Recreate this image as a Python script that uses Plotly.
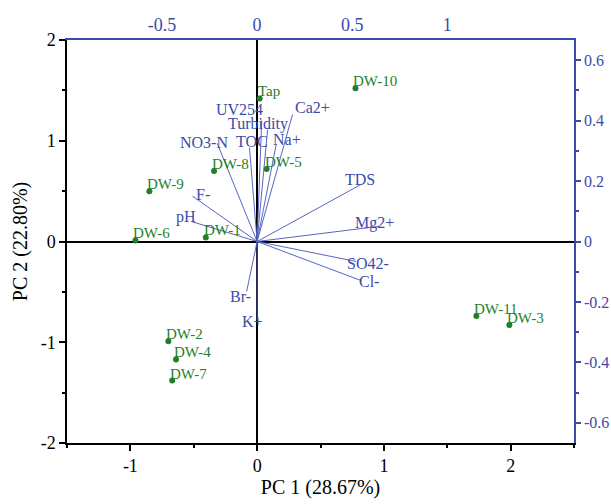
import plotly.graph_objects as go

# ---- Data: scores (bottom/left axes) ----
sample_names = ["DW-10", "Tap", "DW-8", "DW-5", "DW-9", "DW-6", "DW-1",
                "DW-2", "DW-4", "DW-7", "DW-11", "DW-3"]
pc1_scores = [0.776, 0.02, -0.34, 0.075, -0.85, -0.96, -0.405,
              -0.70, -0.64, -0.67, 1.73, 1.99]
pc2_scores = [1.52, 1.42, 0.70, 0.72, 0.50, 0.01, 0.04,
              -0.99, -1.17, -1.38, -0.74, -0.83]

# ---- Data: loadings (top/right axes) ----
var_names = ["Ca2+", "Na+", "Turbidity", "UV254", "TOC", "NO3-N", "F-", "pH",
             "TDS", "Mg2+", "SO42-", "Cl-", "Br-", "K+"]
pc1_load = [0.186, 0.10, 0.055, 0.024, -0.04, -0.21, -0.34, -0.345,
            0.55, 0.64, 0.52, 0.55, -0.055, 0.0]
pc2_load = [0.42, 0.32, 0.37, 0.40, 0.31, 0.325, 0.15, 0.066,
            0.19, 0.05, -0.066, -0.13, -0.165, -0.26]

bottom_ticks = [-1, 0, 1, 2]
left_ticks = [-2, -1, 0, 1, 2]
top_ticks = [-0.5, 0, 0.5, 1]
right_ticks = [-0.6, -0.4, -0.2, 0, 0.2, 0.4, 0.6]

# ---- Styles ----
GREEN = "#1f7f2a"
BLUE = "#3b4bab"
LINEBLUE = "#5566c4"
FONT = "Liberation Serif"

# label pixel offsets (styles)
var_offsets = [(20, 7), (11, 5), (-10, 6), (-22, 11), (2, 6), (-13, 1), (11, 2),
               (-6, 5), (-2, 5), (-4, 3), (12, -2), (7, -1), (-6, -5), (-5, -1)]

def fmt(v):
    return "%g" % v

fig = go.Figure()

# loading vectors
lx, ly = [], []
for a, b in zip(pc1_load, pc2_load):
    lx += [0, a, None]
    ly += [0, b, None]
fig.add_trace(go.Scatter(x=lx, y=ly, mode="lines", xaxis="x2", yaxis="y2",
                         line=dict(color=LINEBLUE, width=1), hoverinfo="skip",
                         showlegend=False))

# score points
fig.add_trace(go.Scatter(x=pc1_scores, y=pc2_scores, mode="markers",
                         marker=dict(color=GREEN, size=6), showlegend=False))

annotations = []
for n, a, b in zip(sample_names, pc1_scores, pc2_scores):
    annotations.append(dict(x=a, y=b, xref="x", yref="y", text=n, showarrow=False,
                            xanchor="left", yanchor="middle", xshift=-4, yshift=7,
                            font=dict(family=FONT, size=15, color=GREEN)))
for n, a, b, (dx, dy) in zip(var_names, pc1_load, pc2_load, var_offsets):
    annotations.append(dict(x=a, y=b, xref="x2", yref="y2", text=n, showarrow=False,
                            xanchor="center", yanchor="middle", xshift=dx, yshift=dy,
                            font=dict(family=FONT, size=16, color=BLUE)))

fig.update_layout(
    width=611, height=504,
    margin=dict(l=67, r=37, t=40, b=61),
    paper_bgcolor="white", plot_bgcolor="white",
    font=dict(family=FONT, size=18, color="black"),
    annotations=annotations,
    xaxis=dict(range=[-1.5, 2.5], tickvals=bottom_ticks,
               ticktext=[fmt(v) for v in bottom_ticks], automargin=False,
               showgrid=False, zeroline=True, zerolinecolor="black", zerolinewidth=1.5,
               showline=True, linecolor="black", linewidth=1.5, mirror=False,
               ticks="outside", ticklen=6, tickwidth=1.5, tickcolor="black",
               minor=dict(dtick=0.5, tick0=0, ticks="outside", ticklen=3, tickcolor="black"),
               tickfont=dict(family=FONT, size=18, color="black"),
               title=dict(text="PC 1 (28.67%)", font=dict(family=FONT, size=20), standoff=2)),
    yaxis=dict(range=[-2, 2], tickvals=left_ticks,
               ticktext=[fmt(v) for v in left_ticks], automargin=False,
               showgrid=False, zeroline=True, zerolinecolor="black", zerolinewidth=1.5,
               showline=True, linecolor="black", linewidth=1.5,
               ticks="outside", ticklen=6, tickwidth=1.5, tickcolor="black",
               minor=dict(dtick=0.5, tick0=0, ticks="outside", ticklen=3, tickcolor="black"),
               tickfont=dict(family=FONT, size=18, color="black"),
               title=dict(text="PC 2 (22.80%)", font=dict(family=FONT, size=20), standoff=8)),
    xaxis2=dict(range=[-1, 5/3], overlaying="x", side="top", anchor="y", automargin=False,
                tickvals=top_ticks, ticktext=[fmt(v) for v in top_ticks],
                showgrid=False, zeroline=False,
                showline=True, linecolor=BLUE, linewidth=1.5, ticks="",
                tickfont=dict(family=FONT, size=18, color=BLUE)),
    yaxis2=dict(range=[-2/3, 2/3], overlaying="y", side="right", anchor="x", automargin=False,
                tickvals=right_ticks, ticktext=[fmt(v) for v in right_ticks],
                showgrid=False, zeroline=False,
                showline=True, linecolor=BLUE, linewidth=1.5,
                ticks="outside", ticklen=5, tickwidth=1.5, tickcolor=BLUE,
                minor=dict(dtick=0.1, tick0=0, ticks="outside", ticklen=3, tickcolor=BLUE),
                tickfont=dict(family=FONT, size=16, color=BLUE)),
)

# remove the default 8px page margin so the figure fills the 611x504 window exactly
fig.write_html("out.html", config={"displayModeBar": False},
               post_script="document.body.style.margin='0';document.body.style.overflow='hidden';")
